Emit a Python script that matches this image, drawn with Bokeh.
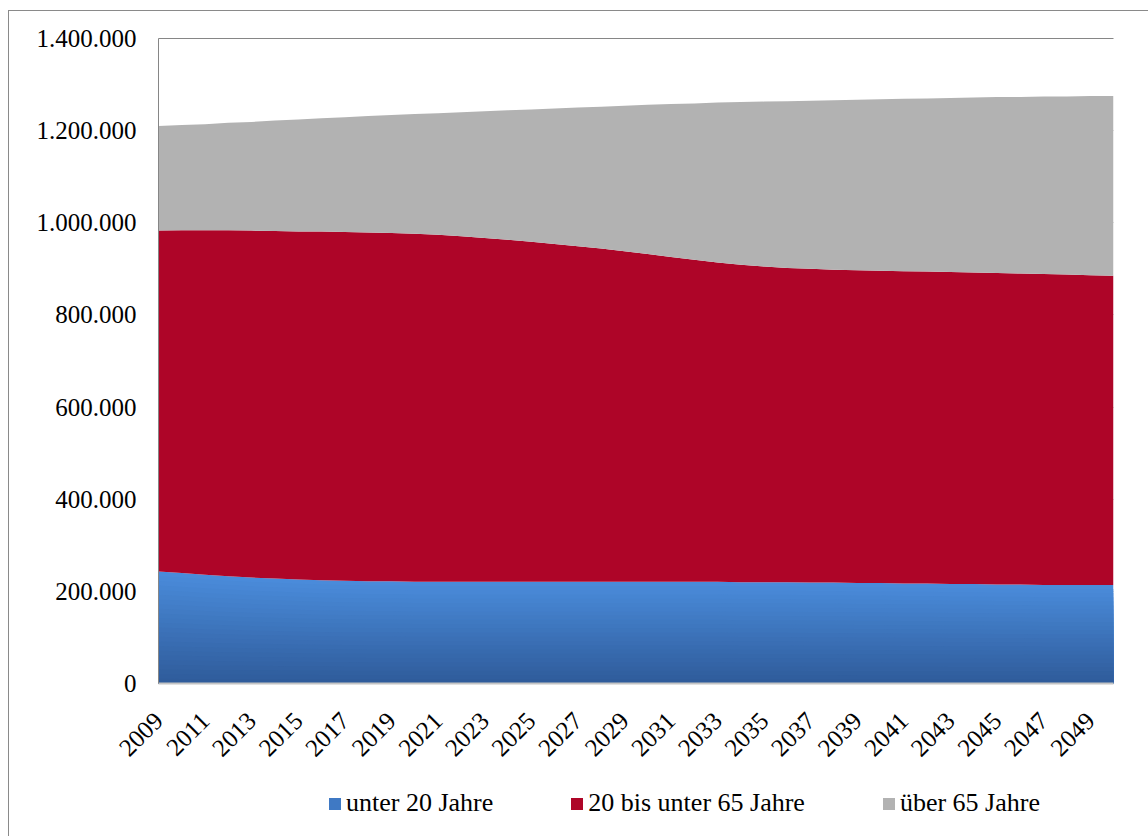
from bokeh.plotting import figure
from bokeh.layouts import column
from bokeh.models import ColumnDataSource, FixedTicker, Legend, LegendItem, Range1d, LinearAxis
from bokeh.embed import file_html
from bokeh.resources import INLINE

years = list(range(2009, 2051))
unter_20 = [243000, 240000, 236000, 233000, 230000, 228000, 226000, 224000, 223000, 222000,
            222000, 221000, 221000, 221000, 221000, 221000, 221000, 221000, 221000, 221000,
            221000, 221000, 221000, 221000, 221000, 220000, 220000, 220000, 219000, 219000,
            218000, 218000, 217000, 217000, 216000, 216000, 215000, 215000, 214000, 214000,
            214000, 214000]
zwischen_20_65 = [740000, 744000, 748000, 751000, 753000, 754000, 755000, 757000, 757000, 757000,
                  756000, 755000, 753000, 750000, 746000, 742000, 738000, 733000, 728000, 723000,
                  717000, 711000, 705000, 699000, 693000, 689000, 685000, 682000, 681000, 679000,
                  679000, 678000, 678000, 677000, 677000, 676000, 676000, 675000, 675000, 674000,
                  672000, 671000]
ueber_65 = [227000, 228000, 230000, 233000, 236000, 240000, 243000, 246000, 249000, 253000,
            256000, 260000, 264000, 269000, 275000, 281000, 287000, 294000, 301000, 308000,
            316000, 324000, 332000, 339000, 347000, 353000, 358000, 362000, 365000, 368000,
            370000, 372000, 374000, 376000, 378000, 380000, 382000, 383000, 385000, 386000,
            389000, 390000]
series_names = ["unter 20 Jahre", "20 bis unter 65 Jahre", "über 65 Jahre"]
y_ticks = [0, 200000, 400000, 600000, 800000, 1000000, 1200000, 1400000]
y_tick_labels = ["0", "200.000", "400.000", "600.000", "800.000", "1.000.000", "1.200.000", "1.400.000"]
x_ticks = list(range(2009, 2050, 2))

# styling
blue_top = (74, 139, 218)
blue_bottom = (47, 92, 155)
n = 24
blue_shades = []
for k in range(n):
    t = k / (n - 1)
    c = tuple(int(round(blue_top[i] + (blue_bottom[i] - blue_top[i]) * t)) for i in range(3))
    blue_shades.append("#%02x%02x%02x" % c)
blue_legend = "#3f79c4"
red = "#ae0528"
grey = "#b2b2b2"
GRID = "#868686"
FONT = "Liberation Serif"

data = dict(x=years, u=unter_20, m=zwischen_20_65, o=ueber_65)
data["zero"] = [0] * len(years)
data["low"] = unter_20
data["mid"] = [a + b for a, b in zip(unter_20, zwischen_20_65)]
data["top"] = [a + b + c for a, b, c in zip(unter_20, zwischen_20_65, ueber_65)]
for k in range(n):
    frac = (n - k) / n
    data[f"b{k}"] = [v * frac for v in unter_20]
src = ColumnDataSource(data)

W = 1139
p = figure(width=W, height=772, output_backend="svg", toolbar_location=None,
           x_range=Range1d(2009, 2050), y_range=Range1d(0, 1400000),
           min_border_left=149, min_border_right=35, min_border_top=27, min_border_bottom=100)
p.outline_line_color = None
p.background_fill_color = "white"

for k in range(n):
    p.varea(x="x", y1="zero", y2=f"b{k}", source=src, fill_color=blue_shades[k], fill_alpha=1)
p.varea(x="x", y1="low", y2="mid", source=src, fill_color=red)
p.varea(x="x", y1="mid", y2="top", source=src, fill_color=grey)

# grid
p.xgrid.visible = False
p.ygrid.ticker = FixedTicker(ticks=y_ticks)
p.ygrid.grid_line_color = GRID
p.ygrid.grid_line_width = 1

# top gridline (1.400.000) drawn as a bare axis line along the frame top
top_line = LinearAxis(ticker=FixedTicker(ticks=[]), axis_line_color=GRID, axis_line_width=1,
                      major_tick_line_color=None, minor_tick_line_color=None,
                      major_label_text_font_size="0px")
p.add_layout(top_line, "above")

# y axis
p.yaxis.ticker = FixedTicker(ticks=y_ticks)
p.yaxis.major_label_overrides = {t: l for t, l in zip(y_ticks, y_tick_labels)}
p.yaxis.major_tick_line_color = None
p.yaxis.minor_tick_line_color = None
p.yaxis.axis_line_color = GRID
p.yaxis.major_label_standoff = 16
p.yaxis.major_label_text_font = FONT
p.yaxis.major_label_text_font_size = "25px"
p.yaxis.major_label_text_color = "black"

# x axis
xa = p.below[0]
xa.ticker = FixedTicker(ticks=x_ticks)
xa.major_label_orientation = 0.7854
xa.major_tick_line_color = None
xa.minor_tick_line_color = None
xa.axis_line_color = "#c4c4c4"
xa.axis_line_width = 2
xa.major_label_standoff = 27
xa.major_label_text_font = FONT
xa.major_label_text_font_size = "25px"
xa.major_label_text_color = "black"

# legend strip below the chart
lg = figure(width=W, height=53, output_backend="svg", toolbar_location=None,
            x_range=Range1d(0, 1), y_range=Range1d(0, 1),
            min_border_left=149, min_border_right=35, min_border_top=0, min_border_bottom=0)
lg.axis.visible = False
lg.grid.visible = False
lg.outline_line_color = None
sw_src = ColumnDataSource(dict(x=[-2, -1], y=[-2, -2]))
sw = [lg.varea(x="x", y1="y", y2="y", source=sw_src, fill_color=c)
      for c in (blue_legend, red, grey)]
legend = Legend(items=[LegendItem(label=nm, renderers=[r]) for nm, r in zip(series_names, sw)],
                orientation="horizontal", location=(169, 18),
                glyph_width=15, glyph_height=15, label_standoff=4, spacing=76,
                padding=0, margin=0, border_line_alpha=0, background_fill_alpha=0,
                label_text_font=FONT, label_text_font_size="26px", label_text_color="black")
lg.add_layout(legend, "center")

layout = column(p, lg, spacing=0,
                styles={"margin-left": "8px", "margin-top": "10px",
                        "border-left": "1px solid #8a8a8a", "border-top": "1px solid #8a8a8a"})

open("out.html", "w").write(file_html(layout, INLINE))
